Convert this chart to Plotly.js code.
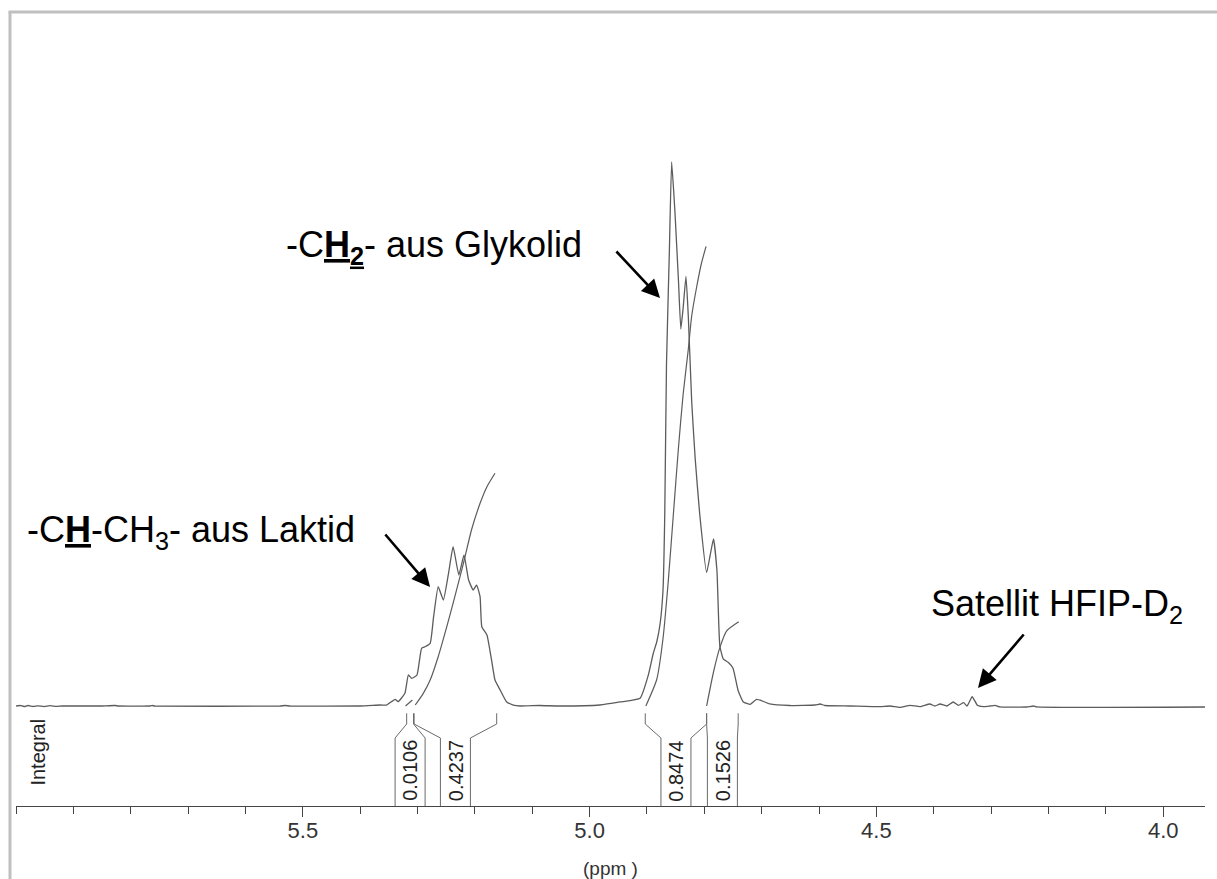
<!DOCTYPE html>
<html><head><meta charset="utf-8">
<script src="https://cdn.plot.ly/plotly-3.0.1.min.js"></script>
<style>html,body{margin:0;padding:0;background:#fff;}#chart{width:1217px;height:879px;}</style>
</head><body><div id="chart"></div>
<script>
// ---- spectrum (chemical shift in ppm, relative intensity, tallest peak = 100) ----
const spectrumPpm = [6.000,5.993,5.986,5.979,5.970,5.962,5.951,5.941,5.930,5.920,5.854,5.827,5.822,5.766,5.763,5.758,5.540,5.531,5.522,5.400,
  5.365,5.354,5.339,5.334,5.322,5.316,5.310,5.301,5.293,5.287,5.278,5.272,5.264,5.255,5.246,5.238,5.228,5.219,5.211,5.203,
  5.197,5.191,5.188,5.179,5.171,5.165,5.156,5.145,5.133,5.121,5.087,5.052,4.982,4.947,4.912,4.898,4.889,4.883,4.877,4.872,
  4.869,4.866,4.861,4.857,4.851,4.845,4.841,4.837,4.832,4.828,4.822,4.816,4.808,4.796,4.790,4.784,4.778,4.773,4.767,4.758,
  4.750,4.741,4.732,4.720,4.709,4.699,4.686,4.651,4.607,4.598,4.590,4.546,4.494,4.476,4.459,4.441,4.424,4.407,4.398,4.389,
  4.377,4.366,4.357,4.348,4.342,4.333,4.324,4.314,4.302,4.293,4.285,4.238,4.226,4.221,3.927];
const spectrumIntensity = [0,0.09,-0.09,0.09,-0.09,0.04,-0.11,0.06,-0.07,0,0,0.09,0,0,0.09,0,0,0.09,0,0,
  0.18,0.18,1.23,0.79,2.33,5.70,5.09,5.70,10.61,10.90,11.53,16.42,21.93,19.49,24.39,29.28,24.08,27.76,23.16,21.32,
  22.24,20.09,14.58,13.05,8.46,4.78,2.94,0.79,0.18,0,0.09,0,0.18,0.74,1.42,5.56,9.70,11.76,15.21,21.42,
  35.20,62.78,83.46,100,90.35,77.94,69.30,73.11,78.97,71.74,55.88,45.54,35.20,24.52,27.62,30.72,24.86,11.08,8.66,7.98,
  6.94,2.80,0.74,0.30,1.20,0.92,0.37,0.09,0.18,0.37,0.09,0,-0.13,0,-0.24,0.13,-0.13,0.37,0,0.37,
  0,0.74,0.13,0.61,0,1.71,0.13,-0.13,0,0.13,-0.18,-0.18,0,-0.18,-0.18];

// ---- integral curves ----
const integral1Ppm = [5.321,5.309];
const integral1Val = [0,1.10];
const integral2Ppm = [5.304,5.290,5.278,5.264,5.249,5.235,5.220,5.206,5.191,5.179,5.165];
const integral2Val = [0.18,2.33,4.78,9.06,14.58,20.09,26.23,32.35,37.26,40.31,42.78];
const integral3Ppm = [4.902,4.883,4.872,4.863,4.854,4.845,4.837,4.828,4.822,4.813,4.805,4.797];
const integral3Val = [0,4.87,12.45,22.79,35.20,47.61,57.26,65.53,71.74,77.25,81.39,84.49];
const integral4Ppm = [4.796,4.784,4.773,4.761,4.740];
const integral4Val = [0,6.25,10.73,13.83,15.5];

// ---- integration regions and values ----
const regionStart = [5.319,5.306,4.903,4.796];
const regionEnd   = [5.307,5.162,4.796,4.741];
const integralValues = ['0.0106','0.4237','0.8474','0.1526'];

// ---- axis ----
const tickVals = [5.5,5.0,4.5,4.0];
const tickText = ['5.5','5.0','4.5','4.0'];

// ---- labels ----
const labelLaktid = '-C<u><b>H</b></u>-CH<sub>3</sub>- aus Laktid';
const labelGlykolid = '-C<u><b>H<sub>2</sub></b></u>- aus Glykolid';
const labelSatellit = 'Satellit HFIP-D<sub>2</sub>';

const FONT = 'Liberation Sans, Arial, sans-serif';
const W = 1217, H = 879, ML = 16, MR = 12, MT = 12, MB = 73;
const xr = [6.0001, 3.9271];
const yr = [-18.382, 127.574];
const pxPpm = (xr[0]-xr[1])/(W-ML-MR);
const lineCol = '#5c5c5c';

const traces = [];
traces.push({x:spectrumPpm, y:spectrumIntensity, mode:'lines', line:{color:lineCol, width:1.3, shape:'spline', smoothing:0.4}, hoverinfo:'skip'});
[[integral1Ppm,integral1Val],[integral2Ppm,integral2Val],[integral3Ppm,integral3Val],[integral4Ppm,integral4Val]].forEach(p=>{
  traces.push({x:p[0], y:p[1], mode:'lines', line:{color:lineCol, width:1.2, shape:'spline', smoothing:0.6}, hoverinfo:'skip'});
});

const annotations = [];
const boxHalf = 15*pxPpm;
const stemTop=-1.34, knee=-3.31, boxTop=-5.88;
regionStart.forEach((s,i)=>{
  const e = regionEnd[i], c = (s+e)/2;
  const bl = c+boxHalf, br = c-boxHalf;
  traces.push({x:[s,s,bl,bl], y:[stemTop,knee,boxTop,yr[0]], mode:'lines', line:{color:'#6a6a6a', width:1}, hoverinfo:'skip'});
  traces.push({x:[e,e,br,br], y:[stemTop,knee,boxTop,yr[0]], mode:'lines', line:{color:'#6a6a6a', width:1}, hoverinfo:'skip'});
  annotations.push({x:c, y:-11.9, xref:'x', yref:'y', text:integralValues[i], textangle:-90, showarrow:false,
    font:{family:FONT, size:20, color:'#222'}, xanchor:'center', yanchor:'middle'});
});
annotations.push({x:5.9625, y:-8.46, xref:'x', yref:'y', text:'Integral', textangle:-90, showarrow:false,
  font:{family:FONT, size:20, color:'#222'}, xanchor:'center', yanchor:'middle'});

// text labels
annotations.push({x:5.9843, y:32.0, xref:'x', yref:'y', text:labelLaktid, showarrow:false, xanchor:'left', yanchor:'middle',
  font:{family:FONT, size:36, color:'#000'}});
annotations.push({x:5.0098, y:84.3, xref:'x', yref:'y', text:labelGlykolid, showarrow:false, xanchor:'right', yanchor:'middle',
  font:{family:FONT, size:36, color:'#000'}});
annotations.push({x:4.4083, y:18.4, xref:'x', yref:'y', text:labelSatellit, showarrow:false, xanchor:'left', yanchor:'middle',
  font:{family:FONT, size:36, color:'#000'}});
// arrows
const arrowStyle = {showarrow:true, text:'', arrowhead:2, arrowsize:1.4, arrowwidth:2.6, arrowcolor:'#000', standoff:0, xref:'x', yref:'y'};
annotations.push(Object.assign({x:4.8773, y:75.0, ax:-45, ay:-48}, arrowStyle));
annotations.push(Object.assign({x:5.2782, y:21.875, ax:-46, ay:-54}, arrowStyle));
annotations.push(Object.assign({x:4.3229, y:3.31, ax:47, ay:-55}, arrowStyle));

// frame
const plotW = W-ML-MR, plotH = H-MT-MB;
const px2paperX = px => (px-ML)/plotW;
const py2paperY = py => (H-MB-py)/plotH;
const shapes = [
  {type:'line', xref:'paper', yref:'paper', x0:px2paperX(8.5), x1:px2paperX(1217), y0:py2paperY(12), y1:py2paperY(12), line:{color:'#c0c0c0', width:3}},
  {type:'line', xref:'paper', yref:'paper', x0:px2paperX(10), x1:px2paperX(10), y0:py2paperY(12), y1:py2paperY(879), line:{color:'#c0c0c0', width:3}}
];

const layout = {
  width:W, height:H, margin:{l:ML, r:MR, t:MT, b:MB},
  paper_bgcolor:'#fff', plot_bgcolor:'#fff', showlegend:false,
  xaxis:{range:xr, showgrid:false, zeroline:false, showline:true, linecolor:'#444', linewidth:1.2,
    ticks:'outside', ticklen:10, tickcolor:'#444', tickwidth:1, tickmode:'array', tickvals:tickVals, ticktext:tickText,
    tickfont:{family:FONT, size:22, color:'#333'}, ticklabelstandoff:-6,
    minor:{ticks:'outside', ticklen:7, tickcolor:'#444', tickwidth:1, tickmode:'linear', tick0:4.0, dtick:0.1},
    title:{text:'(ppm )', font:{family:FONT, size:19, color:'#333'}, standoff:22}, fixedrange:true},
  yaxis:{range:yr, visible:false, fixedrange:true},
  annotations:annotations, shapes:shapes
};
Plotly.newPlot('chart', traces, layout, {staticPlot:true, displayModeBar:false});
</script></body></html>
